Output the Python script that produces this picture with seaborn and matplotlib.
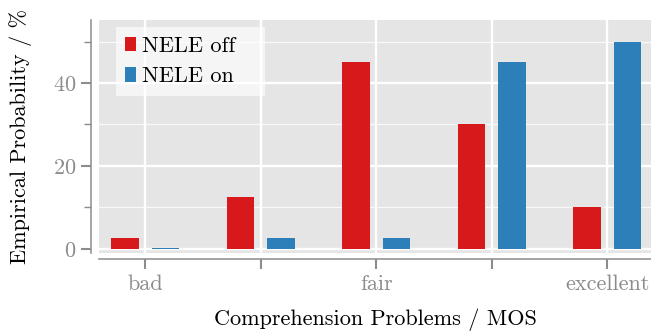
import numpy as np
import pandas as pd
import matplotlib
matplotlib.use('Agg')
import matplotlib.pyplot as plt
import seaborn as sns
from matplotlib.ticker import MultipleLocator

# values (percent)
categories = ['bad', '2', 'fair', '4', 'excellent']
tick_labels = ['bad', '', 'fair', '', 'excellent']
nele_off = [2.5, 12.5, 45.0, 30.0, 10.0]
nele_on = [0.2, 2.5, 2.5, 45.0, 50.0]

df = pd.DataFrame({
    'mos': categories * 2,
    'prob': nele_off + nele_on,
    'cond': ['NELE off'] * 5 + ['NELE on'] * 5,
})

sns.set_theme(style='darkgrid')
plt.rcParams['font.family'] = ['cmr10', 'DejaVu Serif']
plt.rcParams['axes.formatter.use_mathtext'] = True
plt.rcParams['mathtext.fontset'] = 'cm'

grey = '#8c8c8c'
f = plt.figure(figsize=(6.51, 3.33), dpi=100)
ax = f.add_axes([99/651, 1-253/333, 1-99/651, (253-20)/333])
ax.set_facecolor('#e5e5e5')

sns.barplot(data=df, x='mos', y='prob', hue='cond', order=categories,
            palette=['#d7191c', '#2c7fb8'], width=0.70, gap=0.32,
            saturation=1, linewidth=0, ax=ax, zorder=3)

ax.set_xlim(-0.4, 4.38)
ax.set_ylim(-1, 55.2)
ax.yaxis.set_minor_locator(MultipleLocator(10))
ax.set_yticks([0, 20, 40])
ax.grid(which='major', color='white', linewidth=1.7, zorder=0)
ax.grid(which='minor', axis='y', color='white', linewidth=0.9, alpha=0.8, zorder=0)
ax.set_axisbelow(True)
ax.set_xticks(range(5))
ax.set_xticklabels(tick_labels)

for side in ['top', 'right']:
    ax.spines[side].set_visible(False)
ax.spines['left'].set_position(('outward', 6))
ax.spines['bottom'].set_position(('outward', 4.3))
for side in ['left', 'bottom']:
    ax.spines[side].set_visible(True)
    ax.spines[side].set_color(grey)
    ax.spines[side].set_linewidth(1.1)

ax.tick_params(axis='both', which='major', colors=grey, labelcolor=grey, length=7.5, width=1.5,
               labelsize=16, direction='out', left=True, bottom=True)
ax.tick_params(axis='y', which='minor', colors=grey, length=5, width=1.0, left=True)
ax.tick_params(axis='x', which='major', pad=4)
ax.tick_params(axis='y', which='major', pad=3)

ax.set_xlabel('Comprehension Problems / MOS', fontsize=16, color='black', labelpad=10)
ax.set_ylabel('Empirical Probability / %', fontsize=16, color='black')
ax.yaxis.set_label_coords(-0.122, 0.5)

# legend box spans x 116..265 px, top at 27 px
leg = ax.legend(loc='upper left', bbox_to_anchor=(17/552, 0, 149/552, 226/233),
                mode='expand', fontsize=16,
                frameon=True, fancybox=False, handlelength=0.5, handleheight=0.63,
                handletextpad=0.27, borderpad=0.42, labelspacing=0.5, borderaxespad=0)
leg.get_frame().set_facecolor('white')
leg.get_frame().set_alpha(0.65)
leg.get_frame().set_linewidth(0)
for t in leg.get_texts():
    t.set_color('black')

f.savefig('out.png', dpi=100)
